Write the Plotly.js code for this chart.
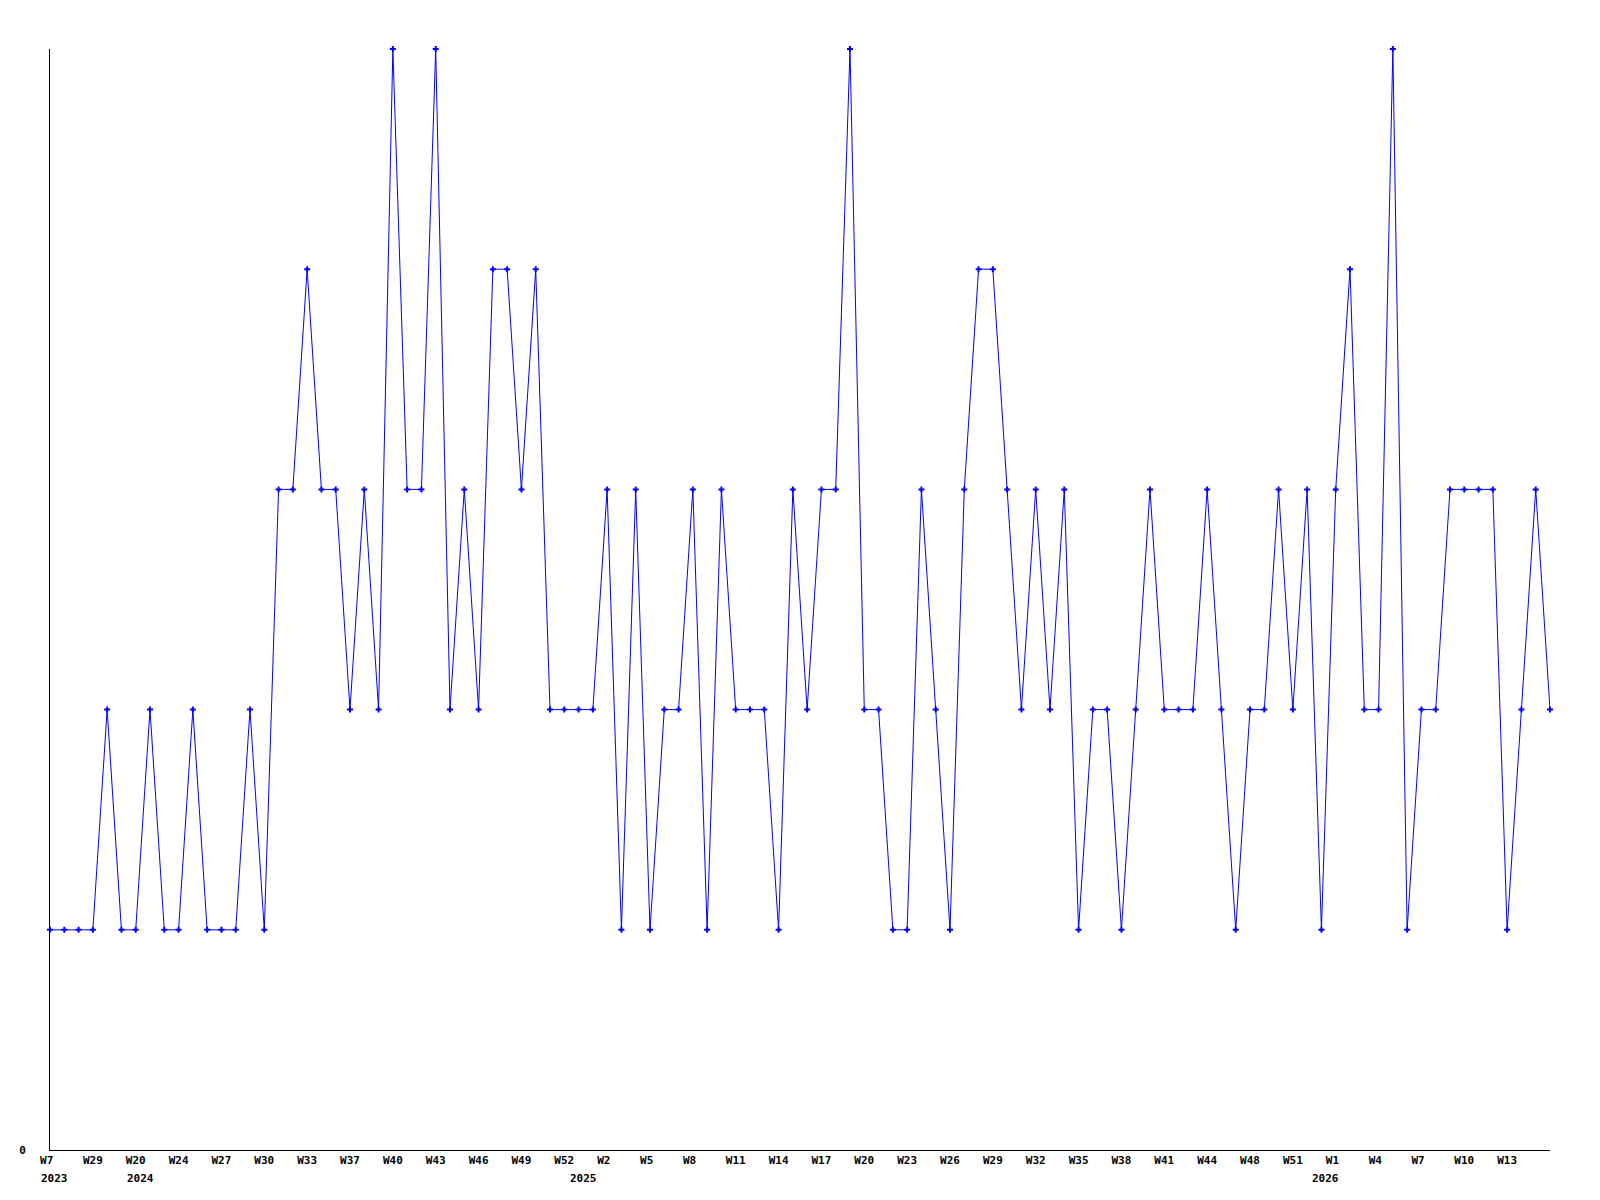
<!DOCTYPE html>
<html>
<head>
<meta charset="utf-8">
<script src="https://cdn.plot.ly/plotly-3.0.1.min.js"></script>
<style>html,body{margin:0;padding:0;background:#fff}#chart{width:1600px;height:1200px}</style>
</head>
<body>
<div id="chart"></div>
<script>
// Weekly values (106 points)
const values = [
  1,1,1,1,2,1,1,2,1,1,
  2,1,1,1,2,1,3,3,4,3,
  3,2,3,2,5,3,3,5,2,3,
  2,4,4,3,4,2,2,2,2,3,
  1,3,1,2,2,3,1,3,2,2,
  2,1,3,2,3,3,5,2,2,1,
  1,3,2,1,3,4,4,3,2,3,
  2,3,1,2,2,1,2,3,2,2,
  2,3,2,1,2,2,3,2,3,1,
  3,4,2,2,5,1,2,2,3,3,
  3,3,1,2,3,2
];
// Tick labels shown every 3rd point
const tickLabels = ["W7","W29","W20","W24","W27","W30","W33","W37","W40","W43","W46","W49","W52",
  "W2","W5","W8","W11","W14","W17","W20","W23","W26","W29","W32","W35","W38","W41","W44","W48","W51",
  "W1","W4","W7","W10","W13"];
// Year labels and the point index under which they start
const yearLabels = ["2023","2024","2025","2026"];
const yearPositions = [0,6,37,89];
const tickStep = 3;

const xs = values.map((v,i)=>i);
const tickvals = tickLabels.map((t,i)=>i*tickStep);
const ticktext = tickLabels.map(t => t.length < 3 ? t + '\u00A0'.repeat(3 - t.length) : t);

const FONT = {family: '"DejaVu Sans Mono", "Liberation Mono", monospace', size: 11, color: '#000', weight: 'bold'};

const annotations = yearLabels.map((y,i)=>({
  x: yearPositions[i], xref: 'x', y: 0, yref: 'paper',
  text: y, showarrow: false, xanchor: 'left', yanchor: 'top',
  xshift: -11, yshift: -20, font: FONT
}));

const trace = {
  x: xs, y: values, type: 'scatter', mode: 'lines+markers',
  line: {color: '#0000ff', width: 1},
  marker: {color: '#0000ff', symbol: 'cross', size: 5},
  cliponaxis: false, hoverinfo: 'skip'
};

const layout = {
  width: 1600, height: 1200,
  margin: {l: 50, r: 50, t: 49, b: 50, pad: 0},
  paper_bgcolor: '#fff', plot_bgcolor: '#fff',
  showlegend: false,
  font: FONT,
  xaxis: {
    range: [0, values.length - 1], showgrid: false, zeroline: false,
    showline: true, linecolor: '#000', linewidth: 1,
    tickmode: 'array', tickvals: tickvals, ticktext: ticktext,
    ticks: '', tickangle: 0, tickfont: FONT, fixedrange: true
  },
  yaxis: {
    range: [0, 5], showgrid: false, zeroline: false,
    showline: true, linecolor: '#000', linewidth: 1,
    tickmode: 'array', tickvals: [0], ticktext: ['0'],
    ticks: '', ticklabelstandoff: 21, tickfont: FONT, fixedrange: true
  },
  annotations: annotations
};

Plotly.newPlot('chart', [trace], layout, {displayModeBar: false, staticPlot: true});
</script>
</body>
</html>
